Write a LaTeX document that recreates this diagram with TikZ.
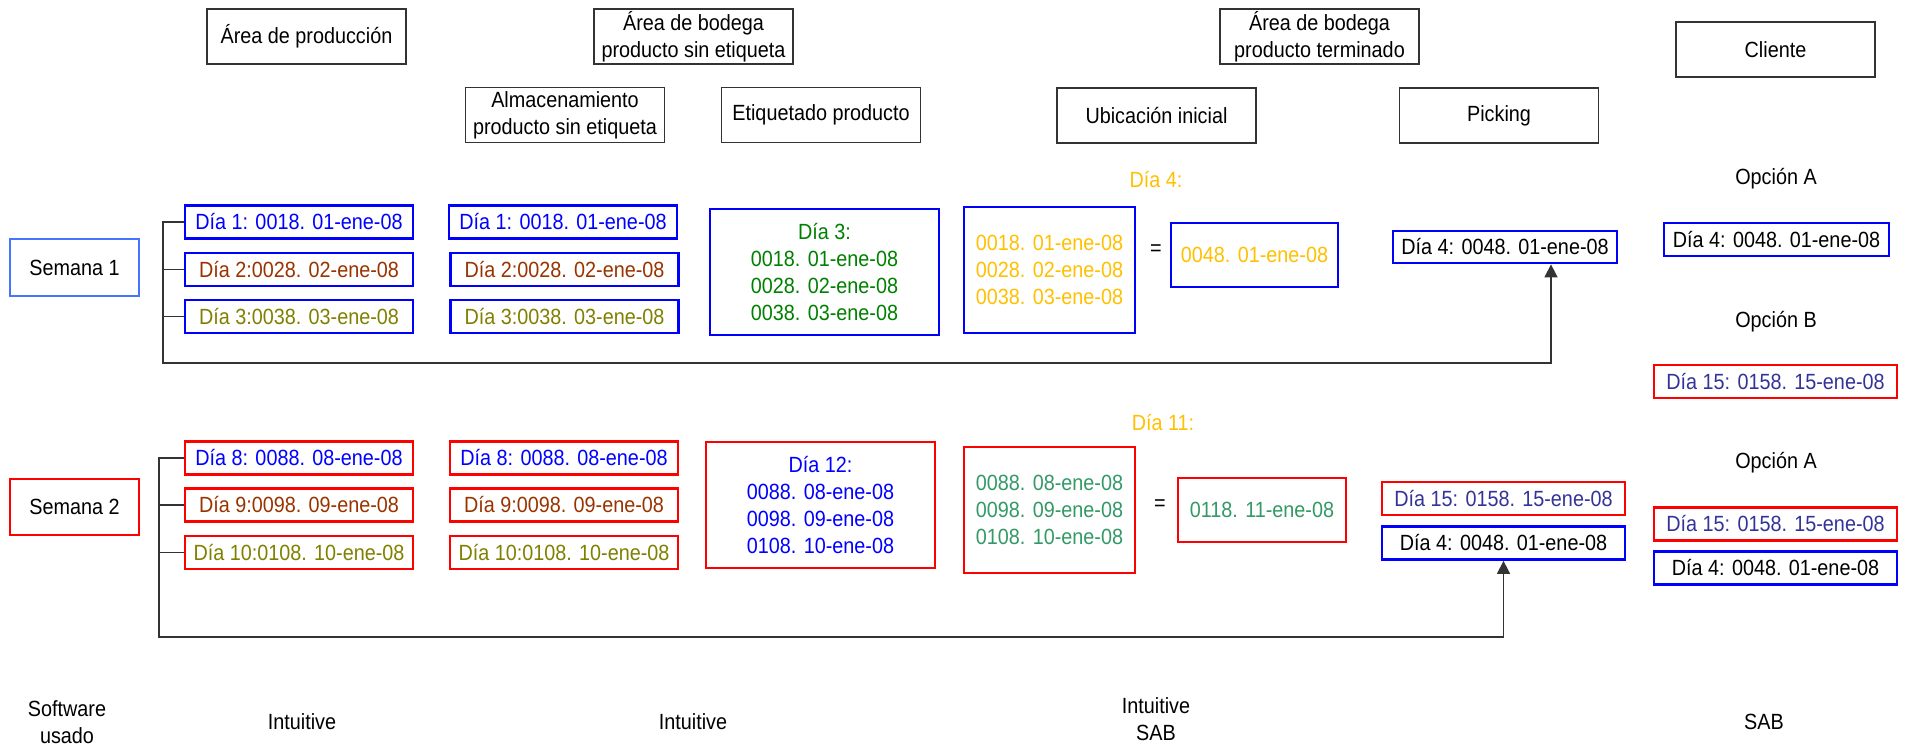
\documentclass[tikz,border=0pt]{standalone}
\usepackage{fontspec}
\setmainfont[FakeStretch=0.9]{Liberation Sans}
\usetikzlibrary{arrows.meta}

\definecolor{boxblue}{RGB}{0,0,255}
\definecolor{boxred}{RGB}{255,0,0}
\definecolor{semblue}{RGB}{70,115,255}
\definecolor{txtblue}{RGB}{0,0,255}
\definecolor{txtbrown}{RGB}{153,51,0}
\definecolor{txtolive}{RGB}{128,128,0}
\definecolor{txtgreen}{RGB}{0,128,0}
\definecolor{txtgold}{RGB}{255,192,0}
\definecolor{txtteal}{RGB}{51,153,102}
\definecolor{txtnavy}{RGB}{51,51,153}

\tikzset{
  cbox/.style={draw,line width=1.4pt,inner sep=0pt,align=center},
  blu/.style={cbox,draw=boxblue},
  rd/.style={cbox,draw=boxred},
  sem1/.style={cbox,draw=semblue},
  hdr/.style={draw=black!80,line width=0.6pt,inner sep=0pt,align=center,
    minimum width=99.5pt,minimum height=27.5pt},
  day/.style={minimum width=114pt,minimum height=16.5pt},
  big/.style={minimum height=63pt},
  opt/.style={minimum width=121.5pt,minimum height=16.5pt},
  lbl/.style={inner sep=0pt,align=center},
  tree/.style={draw=black!80,line width=0.75pt},
  tip/.style={-{Triangle[length=6.5pt,width=6.5pt]}}
}

\begin{document}
\begin{tikzpicture}[x=0.5pt,y=-0.5pt,font=\fontsize{11}{13.5}\selectfont]
\useasboundingbox (0,0) rectangle (1907,747);

% column headers
\node[hdr] (hProd)  at (306.5,36.5) {Área de producción};
\node[hdr] (hBodS)  at (693.5,36.5) {Área de bodega\\producto sin etiqueta};
\node[hdr] (hAlm)   at (565,115)    {Almacenamiento\\producto sin etiqueta};
\node[hdr] (hEtiq)  at (821,115)    {Etiquetado producto};
\node[hdr] (hBodT)  at (1319.5,36.5) {Área de bodega\\producto terminado};
\node[hdr] (hUbic)  at (1156.5,115.5) {Ubicación inicial};
\node[hdr] (hPick)  at (1499,115.5) {Picking};
\node[hdr] (hCli)   at (1775.5,49.5) {Cliente};

% week 1
\node[sem1,minimum width=64.5pt,minimum height=28.5pt] (sem1) at (74.5,267.5) {Semana 1};
\node[blu,day,text=txtblue]  (a1) at (299,222)   {Día 1: 0018. 01-ene-08};
\node[blu,day,text=txtbrown] (a2) at (299,269.5) {Día 2:0028. 02-ene-08};
\node[blu,day,text=txtolive] (a3) at (299,316.5) {Día 3:0038. 03-ene-08};
\node[blu,day,text=txtblue]  (b1) at (563,222)   {Día 1: 0018. 01-ene-08};
\node[blu,day,text=txtbrown] (b2) at (564.5,269.5) {Día 2:0028. 02-ene-08};
\node[blu,day,text=txtolive] (b3) at (564.5,316.5) {Día 3:0038. 03-ene-08};
\node[blu,big,minimum width=114.5pt,text=txtgreen] (c1) at (824.5,272)
  {Día 3:\\0018. 01-ene-08\\0028. 02-ene-08\\0038. 03-ene-08};
\node[lbl,text=txtgold] (d4) at (1156,180) {Día 4:};
\node[blu,big,minimum width=85.5pt,text=txtgold] (u1) at (1049.5,270)
  {0018. 01-ene-08\\0028. 02-ene-08\\0038. 03-ene-08};
\node[lbl] (eq1) at (1156,250) {=};
\node[blu,minimum width=83.5pt,minimum height=32pt,text=txtgold] (r1) at (1254.5,255) {0048. 01-ene-08};
\node[blu,minimum width=112pt,minimum height=16pt] (pk1) at (1505,247) {Día 4: 0048. 01-ene-08};
\node[lbl] (oa1) at (1776,179) {Opción A};
\node[blu,minimum width=112.5pt,minimum height=16.5pt] (cl1) at (1776.5,239.5) {Día 4: 0048. 01-ene-08};
\node[lbl] (ob1) at (1776,322) {Opción B};
\node[rd,opt,text=txtnavy] (cl2) at (1775.5,381.5) {Día 15: 0158. 15-ene-08};

% week 2
\node[rd,minimum width=64.5pt,minimum height=28pt] (sem2) at (74.5,507) {Semana 2};
\node[rd,day,text=txtblue]  (a4) at (299,458)   {Día 8: 0088. 08-ene-08};
\node[rd,day,text=txtbrown] (a5) at (299,505)   {Día 9:0098. 09-ene-08};
\node[rd,day,text=txtolive] (a6) at (299,552.5) {Día 10:0108. 10-ene-08};
\node[rd,day,text=txtblue]  (b4) at (564,458)   {Día 8: 0088. 08-ene-08};
\node[rd,day,text=txtbrown] (b5) at (564,505)   {Día 9:0098. 09-ene-08};
\node[rd,day,text=txtolive] (b6) at (564,552.5) {Día 10:0108. 10-ene-08};
\node[rd,big,minimum width=114.5pt,text=txtblue] (c2) at (820.5,505)
  {Día 12:\\0088. 08-ene-08\\0098. 09-ene-08\\0108. 10-ene-08};
\node[lbl,text=txtgold] (d11) at (1163,423) {Día 11:};
\node[rd,big,minimum width=85.5pt,text=txtteal] (u2) at (1049.5,510)
  {0088. 08-ene-08\\0098. 09-ene-08\\0108. 10-ene-08};
\node[lbl] (eq2) at (1160,505) {=};
\node[rd,minimum width=84pt,minimum height=32pt,text=txtteal] (r2) at (1262,510) {0118. 11-ene-08};
\node[rd,opt,text=txtnavy] (pk2) at (1503.5,498.5) {Día 15: 0158. 15-ene-08};
\node[blu,opt] (pk3) at (1503.5,543) {Día 4: 0048. 01-ene-08};
\node[lbl] (oa2) at (1776,463) {Opción A};
\node[rd,opt,text=txtnavy] (cl3) at (1775.5,524) {Día 15: 0158. 15-ene-08};
\node[blu,opt] (cl4) at (1775.5,568) {Día 4: 0048. 01-ene-08};

% software row
\node[lbl] (sw)  at (67,722)   {Software\\usado};
\node[lbl] (in1) at (302,722)  {Intuitive};
\node[lbl] (in2) at (693,722)  {Intuitive};
\node[lbl] (in3) at (1156,719) {Intuitive\\SAB};
\node[lbl] (sab) at (1764,722) {SAB};

% week 1 tree and route to picking
\coordinate (s1) at (163,363);
\coordinate (k1) at (1551,363);
\draw[tree] (a2.west) -- (a2.west -| s1);
\draw[tree] (a3.west) -- (a3.west -| s1);
\draw[tree,tip] (a1.west) -- (a1.west -| s1) -- (s1) -- (k1) -- (k1 |- pk1.south);

% week 2 tree and route to picking
\coordinate (s2) at (159,637);
\draw[tree] (a5.west) -- (a5.west -| s2);
\draw[tree] (a6.west) -- (a6.west -| s2);
\draw[tree,tip] (a4.west) -- (a4.west -| s2) -- (s2) -| (pk3.south);
\end{tikzpicture}
\end{document}
